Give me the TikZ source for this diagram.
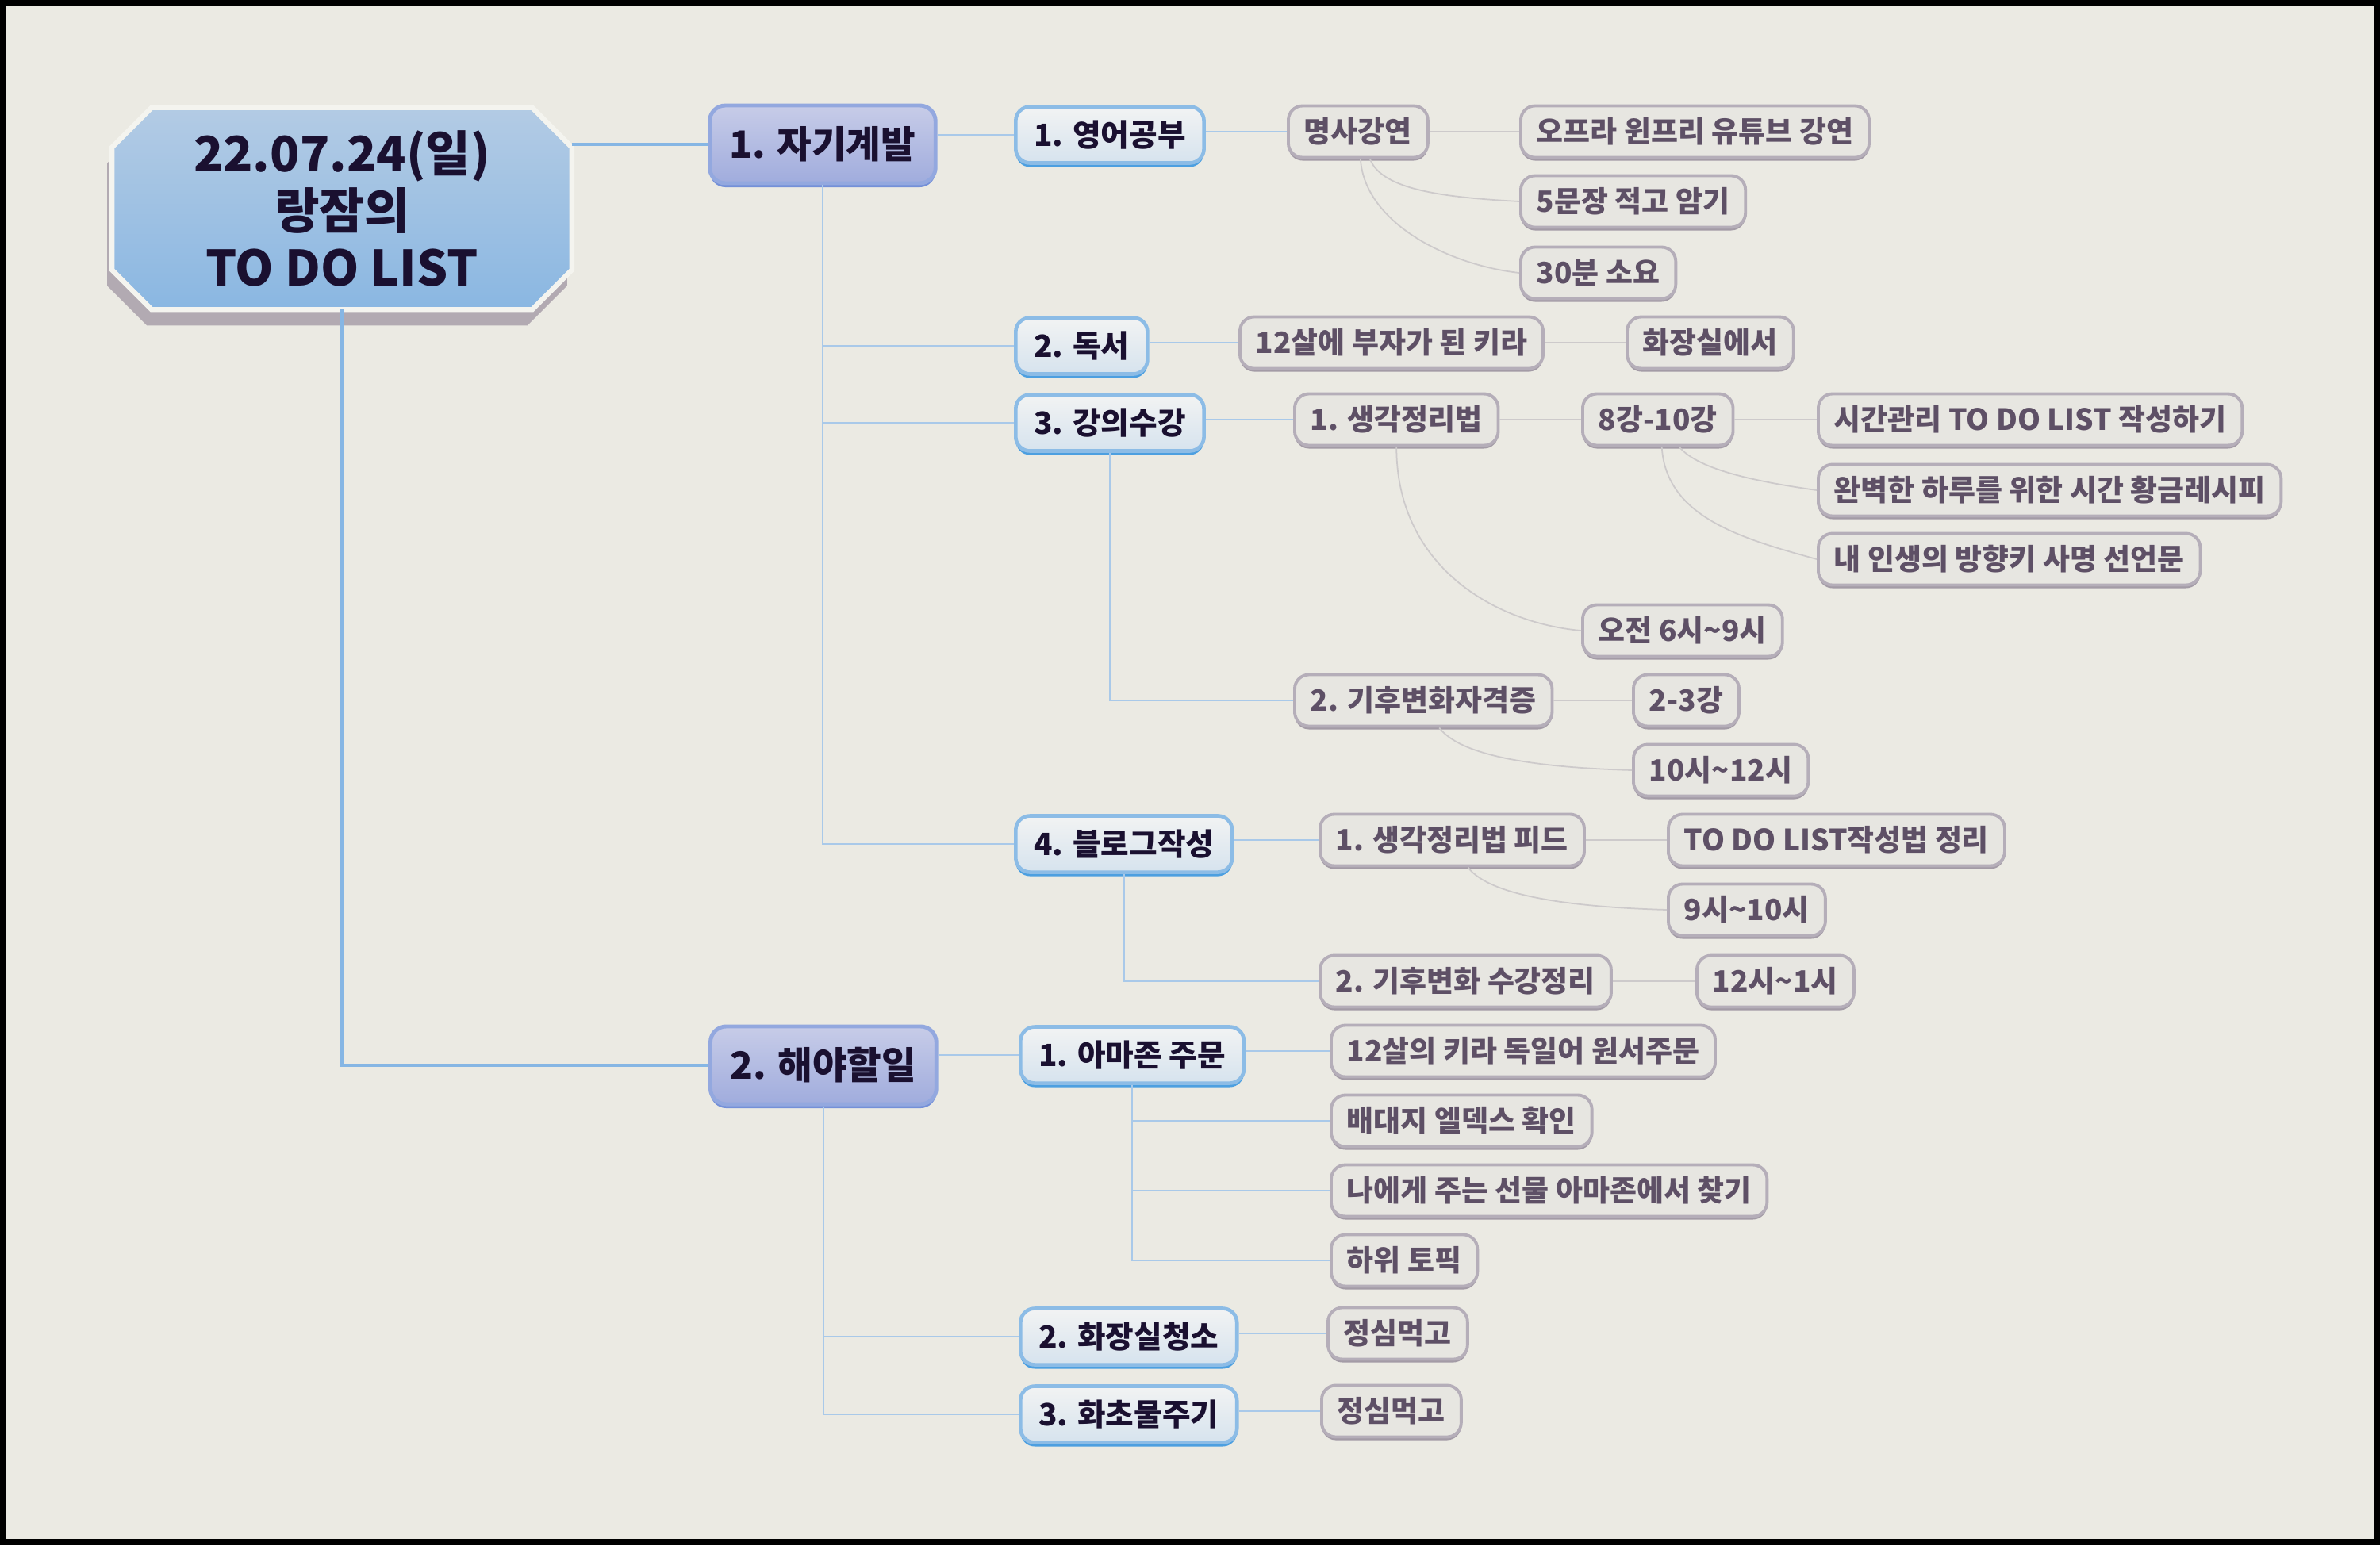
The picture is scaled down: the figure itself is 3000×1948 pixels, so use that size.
\documentclass[tikz,border=0pt]{standalone}
\usepackage{fontspec}
\newfontfamily\kr{Noto Sans CJK KR}
\usetikzlibrary{shadows,backgrounds}

\definecolor{paper}{HTML}{EBEAE3}
\definecolor{ink}{HTML}{1A1030}
\definecolor{leafink}{HTML}{5E5066}
\definecolor{rootedge}{HTML}{F4F4EF}
\definecolor{roottop}{HTML}{B3CBE4}
\definecolor{rootbot}{HTML}{8AB7E2}
\definecolor{rootshade}{HTML}{B2AAB2}
\definecolor{mainline}{HTML}{86B6E4}
\definecolor{subline}{HTML}{A9C9E9}
\definecolor{leafline}{HTML}{CDCACB}
\definecolor{onetop}{HTML}{C7CCE8}
\definecolor{onebot}{HTML}{A0ACDD}
\definecolor{oneedge}{HTML}{93A8DF}
\definecolor{onedeep}{HTML}{7490D8}
\definecolor{twotop}{HTML}{F2F3F3}
\definecolor{twobot}{HTML}{D6E3EE}
\definecolor{twoedge}{HTML}{8CBCE6}
\definecolor{twodeep}{HTML}{4C9FE0}
\definecolor{leaffill}{HTML}{E7E6E1}
\definecolor{leafedge}{HTML}{B5AEB9}
\definecolor{leafdeep}{HTML}{A39BA6}

\tikzset{
  rootlabel/.style={minimum width=5.78cm, minimum height=2.53cm, inner sep=0pt, align=center,
    text=ink, font=\kr\bfseries\fontsize{17.5}{20.5}\selectfont},
  lvlone/.style={anchor=west, rounded corners=0.2cm, draw=oneedge, line width=1.4pt,
    top color=onetop, bottom color=onebot, minimum height=0.98cm, inner xsep=0.25cm,
    text=ink, font=\kr\bfseries\fontsize{13.5}{16}\selectfont,
    drop shadow={opacity=1, fill=onedeep, shadow xshift=0cm, shadow yshift=-0.05cm}},
  lvltwo/.style={anchor=west, rounded corners=0.18cm, draw=twoedge, line width=1.3pt,
    top color=twotop, bottom color=twobot, minimum height=0.71cm, inner xsep=0.23cm,
    text=ink, font=\kr\bfseries\fontsize{11}{13}\selectfont,
    drop shadow={opacity=1, fill=twodeep, shadow xshift=0cm, shadow yshift=-0.05cm}},
  leaf/.style={anchor=west, rounded corners=0.18cm, draw=leafedge, line width=1.1pt,
    fill=leaffill, minimum height=0.65cm, inner xsep=0.2cm,
    text=leafink, font=\kr\bfseries\fontsize{10.5}{12}\selectfont,
    drop shadow={opacity=1, fill=leafdeep, shadow xshift=0cm, shadow yshift=-0.04cm}},
  mainlink/.style={draw=mainline, line width=1.4pt},
  sublink/.style={draw=subline, line width=0.6pt},
  leaflink/.style={draw=leafline, line width=0.5pt},
}

\begin{document}
\begin{tikzpicture}[x=0.01cm, y=-0.01cm]
  \useasboundingbox (0,0) rectangle (3000,1948);

  % central topic
  \node[rootlabel] (root) at (431,263) {22.07.24(일)\\랑잠의\\TO DO LIST};

  % main topics
  \node[lvlone] (jagi) at (892,182) {1. 자기계발};
  \node[lvlone] (haeya) at (893,1343) {2. 해야할일};

  % subtopics
  \node[lvltwo] (eng) at (1278,170) {1. 영어공부};
  \node[lvltwo] (book) at (1278,436) {2. 독서};
  \node[lvltwo] (lect) at (1278,533) {3. 강의수강};
  \node[lvltwo] (blog) at (1278,1064) {4. 블로그작성};
  \node[lvltwo] (amzn) at (1284,1330) {1. 아마존 주문};
  \node[lvltwo] (toil) at (1284,1685) {2. 화장실청소};
  \node[lvltwo] (plant) at (1284,1783) {3. 화초물주기};

  % details
  \node[leaf] (talk) at (1622,166) {명사강연};
  \node[leaf] (oprah) at (1915,166) {오프라 윈프리 유튜브 강연};
  \node[leaf] (five) at (1915,254) {5문장 적고 암기};
  \node[leaf] (thirty) at (1915,344) {30분 소요};
  \node[leaf] (kira) at (1561,432) {12살에 부자가 된 키라};
  \node[leaf] (bath) at (2049,432) {화장실에서};
  \node[leaf] (think) at (1630,529) {1. 생각정리법};
  \node[leaf] (lec) at (1993,529) {8강-10강};
  \node[leaf] (plan) at (2290,529) {시간관리 TO DO LIST 작성하기};
  \node[leaf] (recipe) at (2290,618) {완벽한 하루를 위한 시간 황금레시피};
  \node[leaf] (mission) at (2290,705) {내 인생의 방향키 사명 선언문};
  \node[leaf] (morning) at (1993,795) {오전 6시\textasciitilde9시};
  \node[leaf] (climate) at (1630,883) {2. 기후변화자격증};
  \node[leaf] (twothree) at (2057,883) {2-3강};
  \node[leaf] (tentwelve) at (2057,971) {10시\textasciitilde12시};
  \node[leaf] (feed) at (1662,1059) {1. 생각정리법 피드};
  \node[leaf] (howto) at (2101,1059) {TO DO LIST작성법 정리};
  \node[leaf] (nineten) at (2101,1147) {9시\textasciitilde10시};
  \node[leaf] (recap) at (1662,1237) {2. 기후변화 수강정리};
  \node[leaf] (twelveone) at (2137,1237) {12시\textasciitilde1시};
  \node[leaf] (order) at (1676,1325) {12살의 키라 독일어 원서주문};
  \node[leaf] (eldex) at (1676,1413) {배대지 엘덱스 확인};
  \node[leaf] (gift) at (1676,1501) {나에게 주는 선물 아마존에서 찾기};
  \node[leaf] (sub) at (1676,1589) {하위 토픽};
  \node[leaf] (lunchA) at (1672,1681) {정심먹고};
  \node[leaf] (lunchB) at (1664,1779) {정심먹고};

  % root to main topics
  \draw[mainlink] (root.east |- jagi.west) -- (jagi.west);
  \draw[mainlink] (root.south) |- (haeya.west);

  % main topics to subtopics
  \draw[sublink] (eng.west -| jagi.east) -- (eng.west);
  \draw[sublink] (jagi.south) |- (book.west);
  \draw[sublink] (jagi.south) |- (lect.west);
  \draw[sublink] (jagi.south) |- (blog.west);
  \draw[sublink] (amzn.west -| haeya.east) -- (amzn.west);
  \draw[sublink] (haeya.south) |- (toil.west);
  \draw[sublink] (haeya.south) |- (plant.west);

  % subtopics to details
  \draw[sublink] (talk.west -| eng.east) -- (talk.west);
  \draw[sublink] (kira.west -| book.east) -- (kira.west);
  \draw[sublink] (think.west -| lect.east) -- (think.west);
  \draw[sublink] (lect.south) |- (climate.west);
  \draw[sublink] (feed.west -| blog.east) -- (feed.west);
  \draw[sublink] (blog.south) |- (recap.west);
  \draw[sublink] (order.west -| amzn.east) -- (order.west);
  \draw[sublink] (amzn.south) |- (eldex.west);
  \draw[sublink] (amzn.south) |- (gift.west);
  \draw[sublink] (amzn.south) |- (sub.west);
  \draw[sublink] (lunchA.west -| toil.east) -- (lunchA.west);
  \draw[sublink] (lunchB.west -| plant.east) -- (lunchB.west);

  % details to details
  \draw[leaflink] (oprah.west -| talk.east) -- (oprah.west);
  \draw[leaflink] ([xshift=0.15cm]talk.south) .. controls +(15,40) and +(-90,-5) .. (five.west);
  \draw[leaflink] ([xshift=0.03cm]talk.south) .. controls +(5,80) and +(-90,-10) .. (thirty.west);
  \draw[leaflink] (bath.west -| kira.east) -- (bath.west);
  \draw[leaflink] (lec.west -| think.east) -- (lec.west);
  \draw[leaflink] (plan.west -| lec.east) -- (plan.west);
  \draw[leaflink] ([xshift=0.27cm]lec.south) .. controls +(25,30) and +(-70,-10) .. (recipe.west);
  \draw[leaflink] ([xshift=0.05cm]lec.south) .. controls +(5,90) and +(-90,-25) .. (mission.west);
  \draw[leaflink] (think.south) .. controls +(0,150) and +(-110,-10) .. (morning.west);
  \draw[leaflink] (twothree.west -| climate.east) -- (twothree.west);
  \draw[leaflink] ([xshift=0.2cm]climate.south) .. controls +(30,40) and +(-100,-3) .. (tentwelve.west);
  \draw[leaflink] (howto.west -| feed.east) -- (howto.west);
  \draw[leaflink] ([xshift=0.2cm]feed.south) .. controls +(30,40) and +(-100,-3) .. (nineten.west);
  \draw[leaflink] (twelveone.west -| recap.east) -- (twelveone.west);

  % frame and central shape
  \begin{scope}[on background layer]
    \fill[black] (0,0) rectangle (3000,1948);
    \fill[paper] (8,8) rectangle (2992,1940);
    \fill[rootshade, transform canvas={xshift=-0.06cm, yshift=-0.2cm}]
      ([xshift=0.5cm]root.north west) -- ([xshift=-0.5cm]root.north east)
      -- ([yshift=-0.5cm]root.north east) -- ([yshift=0.5cm]root.south east)
      -- ([xshift=-0.5cm]root.south east) -- ([xshift=0.5cm]root.south west)
      -- ([yshift=0.5cm]root.south west) -- ([yshift=-0.5cm]root.north west) -- cycle;
    \path[draw=rootedge, line width=1.8pt, top color=roottop, bottom color=rootbot]
      ([xshift=0.5cm]root.north west) -- ([xshift=-0.5cm]root.north east)
      -- ([yshift=-0.5cm]root.north east) -- ([yshift=0.5cm]root.south east)
      -- ([xshift=-0.5cm]root.south east) -- ([xshift=0.5cm]root.south west)
      -- ([yshift=0.5cm]root.south west) -- ([yshift=-0.5cm]root.north west) -- cycle;
  \end{scope}
\end{tikzpicture}
\end{document}
